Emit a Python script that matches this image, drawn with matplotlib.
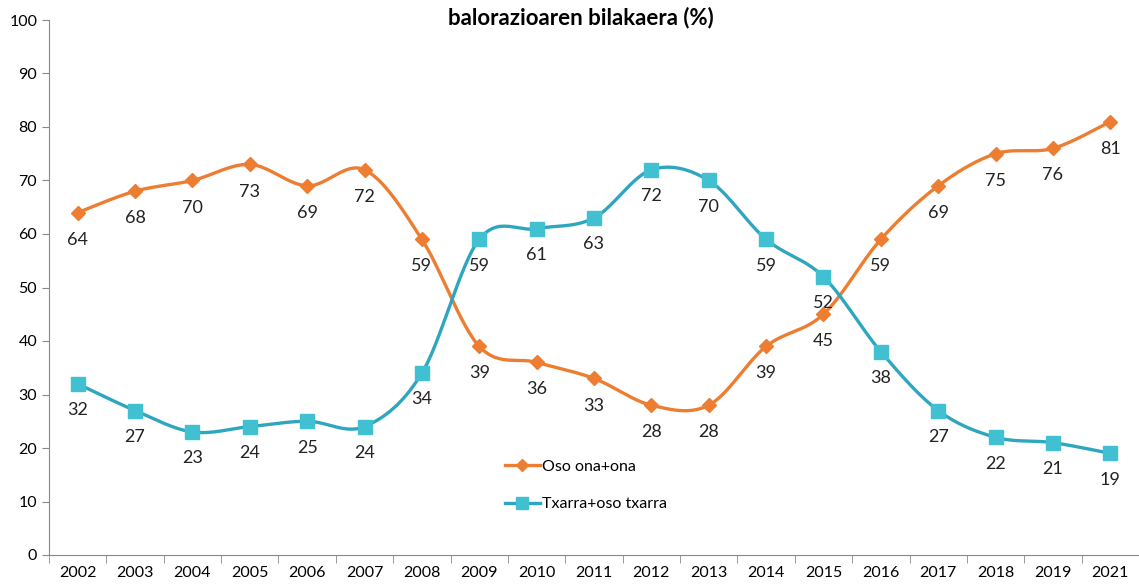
import numpy as np
import matplotlib
matplotlib.use("Agg")
import matplotlib.pyplot as plt

years = ["2002", "2003", "2004", "2005", "2006", "2007", "2008", "2009", "2010", "2011",
         "2012", "2013", "2014", "2015", "2016", "2017", "2018", "2019", "2021"]
ona = [64, 68, 70, 73, 69, 72, 59, 39, 36, 33, 28, 28, 39, 45, 59, 69, 75, 76, 81]
txarra = [32, 27, 23, 24, 25, 24, 34, 59, 61, 63, 72, 70, 59, 52, 38, 27, 22, 21, 19]

plt.rcParams['font.family'] = ['Lato', 'DejaVu Sans']


def smooth(xs, ys, n=30):
    # excel-like smoothed line (catmull-rom bezier)
    xs = np.asarray(xs, float)
    ys = np.asarray(ys, float)
    px = np.concatenate([[xs[0]], xs, [xs[-1]]])
    py = np.concatenate([[ys[0]], ys, [ys[-1]]])
    outx, outy = [], []
    t = np.linspace(0, 1, n)
    for i in range(1, len(px) - 2):
        p0 = np.array([px[i], py[i]])
        p3 = np.array([px[i + 1], py[i + 1]])
        c1 = p0 + (np.array([px[i + 1], py[i + 1]]) - np.array([px[i - 1], py[i - 1]])) / 6
        c2 = p3 - (np.array([px[i + 2], py[i + 2]]) - np.array([px[i], py[i]])) / 6
        b = ((1 - t) ** 3)[:, None] * p0 + (3 * (1 - t) ** 2 * t)[:, None] * c1 \
            + (3 * (1 - t) * t ** 2)[:, None] * c2 + (t ** 3)[:, None] * p3
        outx.extend(b[:, 0])
        outy.extend(b[:, 1])
    return outx, outy


fig = plt.figure(figsize=(11.39, 5.86), dpi=100)
ax = fig.add_axes([49 / 1139, 31 / 586, 1 - 49 / 1139, 535 / 586])

x = np.arange(len(years))
orange = '#ED7D31'
teal_line = '#2FA6C0'
teal_mark = '#40C0D0'

sx, sy = smooth(x, ona)
ax.plot(sx, sy, color=orange, lw=2.4, zorder=3)
ax.plot(x, ona, ls='none', marker='D', ms=7, color=orange, zorder=4)
sx, sy = smooth(x, txarra)
ax.plot(sx, sy, color=teal_line, lw=2.4, zorder=3)
ax.plot(x, txarra, ls='none', marker='s', ms=10, color=teal_mark, zorder=4)

for xi, v in zip(x, ona):
    ax.annotate(str(v), (xi, v), xytext=(0, -19.5), textcoords='offset points',
                ha='center', va='center', fontsize=13, color='#222222')
for xi, v in zip(x, txarra):
    ax.annotate(str(v), (xi, v), xytext=(0, -19), textcoords='offset points',
                ha='center', va='center', fontsize=13, color='#222222')

ax.set_ylim(0, 100)
ax.set_yticks(range(0, 101, 10))
ax.set_xlim(-0.5, -0.5 + (1139 - 49) / 57.72)
ax.set_xticks(x)
ax.set_xticklabels(years)
ax.set_xticks(np.arange(-0.5, len(years), 1), minor=True)
ax.tick_params(axis='x', which='major', length=0, pad=8, labelsize=11.5)
ax.tick_params(axis='x', which='minor', length=6, color='#888888')
ax.tick_params(axis='y', length=5, color='#888888', labelsize=11.5)

for s in ['top', 'right']:
    ax.spines[s].set_visible(False)
for s in ['left', 'bottom']:
    ax.spines[s].set_color('#888888')

h1, = ax.plot([], [], color=orange, lw=2.4, marker='D', ms=6)
h2, = ax.plot([], [], color=teal_line, lw=2.4, marker='s', ms=9, mfc=teal_mark, mec=teal_mark)
ax.legend([h1, h2], ["Oso ona+ona", "Txarra+oso txarra"], frameon=False,
          loc='upper left', bbox_to_anchor=(0.405, 0.205), handlelength=2.2,
          handletextpad=0.1, labelspacing=1.45, fontsize=11.5)

fig.text(0.51, 0.97, "balorazioaren bilakaera (%)", ha='center', va='center',
         fontsize=16, fontweight='bold')

fig.savefig("out.png", dpi=100)
